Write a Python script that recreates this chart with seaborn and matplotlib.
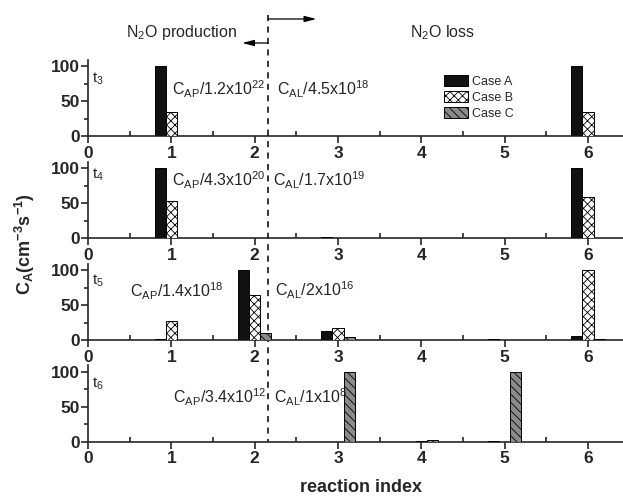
import numpy as np
import pandas as pd
import matplotlib
matplotlib.use("Agg")
import matplotlib.pyplot as plt
import matplotlib.transforms as mtransforms
from matplotlib.patches import Patch
from matplotlib.ticker import MultipleLocator
import seaborn as sns

# ---- data -------------------------------------------------------------
reactions = [1, 2, 3, 4, 5, 6]
cases = ["Case A", "Case B", "Case C"]
times = ["t$_3$", "t$_4$", "t$_5$", "t$_6$"]

t3_case_a = [100, 0, 0, 0, 0, 100]
t3_case_b = [35, 0, 0, 0, 0, 35]
t3_case_c = [0, 0, 0, 0, 0, 0]

t4_case_a = [100, 1, 1.5, 0, 0, 100]
t4_case_b = [54, 0, 0.5, 0, 0, 59]
t4_case_c = [0, 0, 0, 0, 0, 0]

t5_case_a = [1, 100, 13, 0, 1, 6]
t5_case_b = [27, 64, 17.5, 0, 0, 100]
t5_case_c = [0, 10, 4, 0, 0, 1]

t6_case_a = [0, 0, 0, 0, 1, 0]
t6_case_b = [0, 0, 0, 1, 0, 0]
t6_case_c = [0, 0, 100, 2, 100, 0]

production_scale = ["1.2x10$^{22}$", "4.3x10$^{20}$", "1.4x10$^{18}$", "3.4x10$^{12}$"]
loss_scale = ["4.5x10$^{18}$", "1.7x10$^{19}$", "2x10$^{16}$", "1x10$^{8}$"]
divider_x = 2.165

panels = [
    (t3_case_a, t3_case_b, t3_case_c),
    (t4_case_a, t4_case_b, t4_case_c),
    (t5_case_a, t5_case_b, t5_case_c),
    (t6_case_a, t6_case_b, t6_case_c),
]

# ---- style ------------------------------------------------------------
sns.set_style("ticks")
plt.rcParams["font.family"] = ["Liberation Sans", "DejaVu Sans"]
plt.rcParams["mathtext.default"] = "regular"
plt.rcParams["hatch.linewidth"] = 0.6
plt.rcParams["axes.linewidth"] = 1.2

face = {"Case A": "#111111", "Case B": "#ffffff", "Case C": "#8a8a8a"}
hatch = {"Case A": "", "Case B": "xxxx", "Case C": "\\\\\\\\"}

W, H = 623, 500
fig = plt.figure(figsize=(W / 100, H / 100), dpi=100)

left_px, right_px = 88, 623
bottom_px = [136, 238.3, 340, 441.7]
ytop = 109
px_per_unit = 0.7
ax_h = ytop * px_per_unit

# text placement per panel (data coords)
ap_pos = [(1.005, 58), (1.005, 74), (0.50, 61), (1.024, 55)]
al_pos = [(2.265, 58), (2.22, 74), (2.245, 62), (2.23, 55)]
t_pos = [(0.045, 77), (0.045, 86), (0.045, 78.5), (0.045, 78)]

axes = []
for i, (a, b, c) in enumerate(panels):
    ax = fig.add_axes([left_px / W, 1 - bottom_px[i] / H,
                       (right_px - left_px) / W, ax_h / H])
    axes.append(ax)
    df = pd.DataFrame({
        "reaction": reactions * 3,
        "value": list(a) + list(b) + list(c),
        "case": [cs for cs in cases for _ in reactions],
    })
    sns.barplot(data=df, x="reaction", y="value", hue="case",
                hue_order=cases, native_scale=True, width=0.4,
                palette=face, edgecolor="black", linewidth=0.7,
                errorbar=None, legend=False, ax=ax, zorder=3)
    for container, cs in zip(ax.containers, cases):
        for bar in container:
            bar.set_hatch(hatch[cs])
            bar.set_facecolor(face[cs])
            if bar.get_height() == 0:
                bar.set_visible(False)

    ax.set_xlim(0, 6.42)
    ax.set_ylim(0, ytop)
    ax.set_xticks(range(0, 7))
    ax.xaxis.set_minor_locator(MultipleLocator(0.5))
    ax.set_yticks([0, 50, 100])
    ax.yaxis.set_minor_locator(MultipleLocator(25))
    ax.tick_params(axis="x", which="major", direction="out", length=5,
                   width=1.2, labelsize=12.5, pad=2)
    ax.tick_params(axis="x", which="minor", direction="in", length=3.5, width=1.2)
    ax.tick_params(axis="y", which="major", direction="out", length=5,
                   width=1.2, labelsize=12.5, pad=1)
    ax.tick_params(axis="y", which="minor", direction="out", length=3, width=1.2)
    for lab in ax.get_xticklabels() + ax.get_yticklabels():
        lab.set_fontweight("bold")
    ax.set_xlabel("")
    ax.set_ylabel("")
    sns.despine(ax=ax)
    ax.patch.set_alpha(0)

    ax.text(*t_pos[i], times[i], fontsize=11, va="baseline", ha="left")
    ax.text(*ap_pos[i], "C$_{AP}$/" + production_scale[i], fontsize=11.5,
            va="baseline", ha="left")
    ax.text(*al_pos[i], "C$_{AL}$/" + loss_scale[i], fontsize=11.5,
            va="baseline", ha="left")

# legend in the top panel
handles = [Patch(facecolor=face[cs], edgecolor="black", hatch=hatch[cs],
                 linewidth=0.7) for cs in cases]
fig.legend(handles, cases, loc="upper left",
           bbox_to_anchor=(444 / W, 1 - 75 / H), frameon=False,
           fontsize=9, handlelength=1.95, handleheight=1.0,
           labelspacing=0.25, handletextpad=0.3, borderpad=0.0,
           borderaxespad=0.0)

# dividing line between production and loss reactions
top_ax = axes[0]
blend = mtransforms.blended_transform_factory(top_ax.transData, fig.transFigure)
top_ax.plot([divider_x, divider_x], [1 - 15 / H, 1 - 441.7 / H],
            transform=blend, color="black", lw=1.1, ls=(0, (4, 3.5)),
            clip_on=False, zorder=5)
top_ax.annotate("", xy=(2.74, 1 - 19 / H), xytext=(divider_x, 1 - 19 / H),
                xycoords=blend, textcoords=blend,
                arrowprops=dict(arrowstyle="-|>,head_length=0.7,head_width=0.18",
                                color="black", lw=0.9, shrinkA=0, shrinkB=0))
top_ax.annotate("", xy=(1.85, 1 - 43 / H), xytext=(divider_x, 1 - 43 / H),
                xycoords=blend, textcoords=blend,
                arrowprops=dict(arrowstyle="-|>,head_length=0.7,head_width=0.18",
                                color="black", lw=0.9, shrinkA=0, shrinkB=0))
top_ax.text(1.12, 1 - 37 / H, "N$_2$O production", transform=blend,
            fontsize=11.5, ha="center", va="baseline")
top_ax.text(4.26, 1 - 37 / H, "N$_2$O loss", transform=blend,
            fontsize=11.5, ha="center", va="baseline")

# axis titles
fig.text(361 / W, 1 - 491.5 / H, "reaction index", fontsize=13,
         fontweight="bold", ha="center", va="baseline")
fig.text(25 / W, 1 - 244 / H, "C$_A$(cm$^{-3}$s$^{-1}$)", fontsize=13,
         fontweight="bold", ha="center", va="center", rotation=90)

fig.savefig("out.png", dpi=100)
